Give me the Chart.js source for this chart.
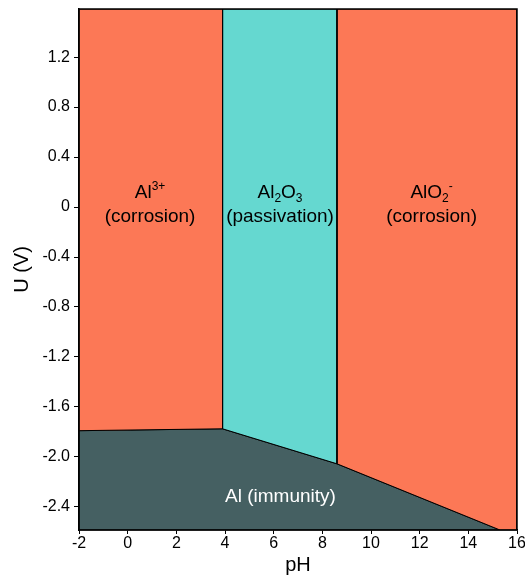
<!DOCTYPE html>
<html>
<head>
<meta charset="utf-8">
<script src="https://cdn.jsdelivr.net/npm/chart.js@4/dist/chart.umd.min.js"></script>
<style>
  html, body { margin: 0; padding: 0; background: #fff; }
  #wrap { width: 525px; height: 577px; }
</style>
</head>
<body>
<div id="wrap"><canvas id="pourbaix" width="525" height="577"></canvas></div>
<script>
// axis ranges and ticks
var phRange = [-2, 16];
var uRange = [-2.585, 1.585];
var phTicks = [-2, 0, 2, 4, 6, 8, 10, 12, 14, 16];
var uTicks = [1.2, 0.8, 0.4, 0, -0.4, -0.8, -1.2, -1.6, -2.0, -2.4];
var uTickLabels = ['1.2', '0.8', '0.4', '0', '-0.4', '-0.8', '-1.2', '-1.6', '-2.0', '-2.4'];

// vertical boundaries (pH)
var acidPassivePH = 3.9;
var passiveBasicPH = 8.6;

// lower boundary of the immunity region (Al)
var immunityPH = [-2, 3.9, 8.6, 15.3];
var immunityU = [-1.79, -1.775, -2.055, -2.585];

var colCorrosion = '#fc7856';
var colPassive = '#65d8d0';
var colImmune = '#456062';

var fuente = "'Liberation Sans', Arial, sans-serif";

function pt(x, y) { return { x: x, y: y }; }

var arriba = uRange[1], abajo = uRange[0];

var regAcido = [pt(phRange[0], arriba), pt(acidPassivePH, arriba), pt(immunityPH[1], immunityU[1]),
                pt(immunityPH[0], immunityU[0]), pt(phRange[0], arriba)];
var regPasivo = [pt(acidPassivePH, arriba), pt(passiveBasicPH, arriba), pt(immunityPH[2], immunityU[2]),
                 pt(immunityPH[1], immunityU[1]), pt(acidPassivePH, arriba)];
var regBasico = [pt(passiveBasicPH, arriba), pt(phRange[1], arriba), pt(phRange[1], abajo),
                 pt(immunityPH[3], immunityU[3]), pt(immunityPH[2], immunityU[2]), pt(passiveBasicPH, arriba)];
var regInmune = [pt(immunityPH[0], immunityU[0]), pt(immunityPH[1], immunityU[1]), pt(immunityPH[2], immunityU[2]),
                 pt(immunityPH[3], immunityU[3]), pt(phRange[0], abajo), pt(immunityPH[0], immunityU[0])];

function region(nombre, datos, color) {
    return {
        label: nombre,
        data: datos,
        showLine: true,
        fill: 'shape',
        backgroundColor: color,
        borderColor: '#000',
        borderWidth: 1,
        pointRadius: 0,
        pointHoverRadius: 0,
        tension: 0
    };
}

// region labels: [pH, U, parts]
var etiquetas = [
    { x: 0.92, y: 0.072, color: '#000', partes: [{ t: 'Al' }, { t: '3+', sup: true }] },
    { x: 0.92, y: -0.12, color: '#000', partes: [{ t: '(corrosion)' }] },
    { x: 6.26, y: 0.072, color: '#000', partes: [{ t: 'Al' }, { t: '2', sub: true }, { t: 'O' }, { t: '3', sub: true }] },
    { x: 6.26, y: -0.12, color: '#000', partes: [{ t: '(passivation)' }] },
    { x: 12.49, y: 0.072, color: '#000', partes: [{ t: 'AlO' }, { t: '2', sub: true }, { t: '-', sup: true }] },
    { x: 12.49, y: -0.12, color: '#000', partes: [{ t: '(corrosion)' }] },
    { x: 6.28, y: -2.358, color: '#fff', partes: [{ t: 'Al (immunity)' }] }
];

var pluginEtiquetas = {
    id: 'etiquetas',
    afterDatasetsDraw: function (chart) {
        var ctx = chart.ctx;
        var sx = chart.scales.x, sy = chart.scales.y;
        ctx.save();
        ctx.textBaseline = 'alphabetic';
        ctx.textAlign = 'left';
        etiquetas.forEach(function (e) {
            var total = 0;
            e.partes.forEach(function (p) {
                ctx.font = ((p.sup || p.sub) ? 12 : 19) + 'px ' + fuente;
                p.w = ctx.measureText(p.t).width;
                total += p.w;
            });
            var px = sx.getPixelForValue(e.x) - total / 2;
            var py = sy.getPixelForValue(e.y);
            ctx.fillStyle = e.color;
            e.partes.forEach(function (p) {
                ctx.font = ((p.sup || p.sub) ? 12 : 19) + 'px ' + fuente;
                var dy = p.sup ? -8 : (p.sub ? 4 : 0);
                ctx.fillText(p.t, px, py + dy);
                px += p.w;
            });
        });
        // plot frame
        var a = chart.chartArea;
        ctx.strokeStyle = '#000';
        ctx.lineWidth = 1.5;
        ctx.strokeRect(a.left, a.top, a.right - a.left, a.bottom - a.top);
        ctx.restore();
    }
};

var grafico = new Chart(document.getElementById('pourbaix'), {
    type: 'scatter',
    data: {
        datasets: [
            region('Al3+', regAcido, colCorrosion),
            region('Al2O3', regPasivo, colPassive),
            region('AlO2-', regBasico, colCorrosion),
            region('Al', regInmune, colImmune)
        ]
    },
    options: {
        responsive: false,
        animation: false,
        events: [],
        layout: { padding: { top: 9, right: 8, bottom: 0, left: 0 } },
        plugins: {
            legend: { display: false },
            tooltip: { enabled: false }
        },
        scales: {
            x: {
                type: 'linear',
                min: phRange[0],
                max: phRange[1],
                afterBuildTicks: function (s) { s.ticks = phTicks.map(function (v) { return { value: v }; }); },
                afterFit: function (s) { s.height = 47; s.paddingLeft = 0; s.paddingRight = 0; },
                grid: { display: true, drawOnChartArea: false, drawTicks: true, tickLength: 4, color: '#000' },
                border: { display: true, color: '#000', width: 1.5 },
                ticks: {
                    color: '#000',
                    padding: 0,
                    maxRotation: 0,
                    autoSkip: false,
                    font: { family: fuente, size: 16 },
                    callback: function (v) { return String(v); }
                },
                title: {
                    display: true,
                    text: 'pH',
                    color: '#000',
                    font: { family: fuente, size: 20 },
                    padding: { top: 0, bottom: 0 }
                }
            },
            y: {
                type: 'linear',
                min: uRange[0],
                max: uRange[1],
                afterBuildTicks: function (s) { s.ticks = uTicks.map(function (v) { return { value: v }; }); },
                afterFit: function (s) { s.width = 79; s.paddingTop = 0; s.paddingBottom = 0; },
                grid: { display: true, drawOnChartArea: false, drawTicks: true, tickLength: 5, color: '#000' },
                border: { display: true, color: '#000', width: 1.5 },
                ticks: {
                    color: '#000',
                    padding: 4,
                    autoSkip: false,
                    font: { family: fuente, size: 16 },
                    callback: function (v, i) { return uTickLabels[i]; }
                },
                title: {
                    display: true,
                    text: 'U (V)',
                    color: '#000',
                    font: { family: fuente, size: 20 },
                    padding: { top: 10, bottom: 0 }
                }
            }
        }
    },
    plugins: [pluginEtiquetas]
});
</script>
</body>
</html>
